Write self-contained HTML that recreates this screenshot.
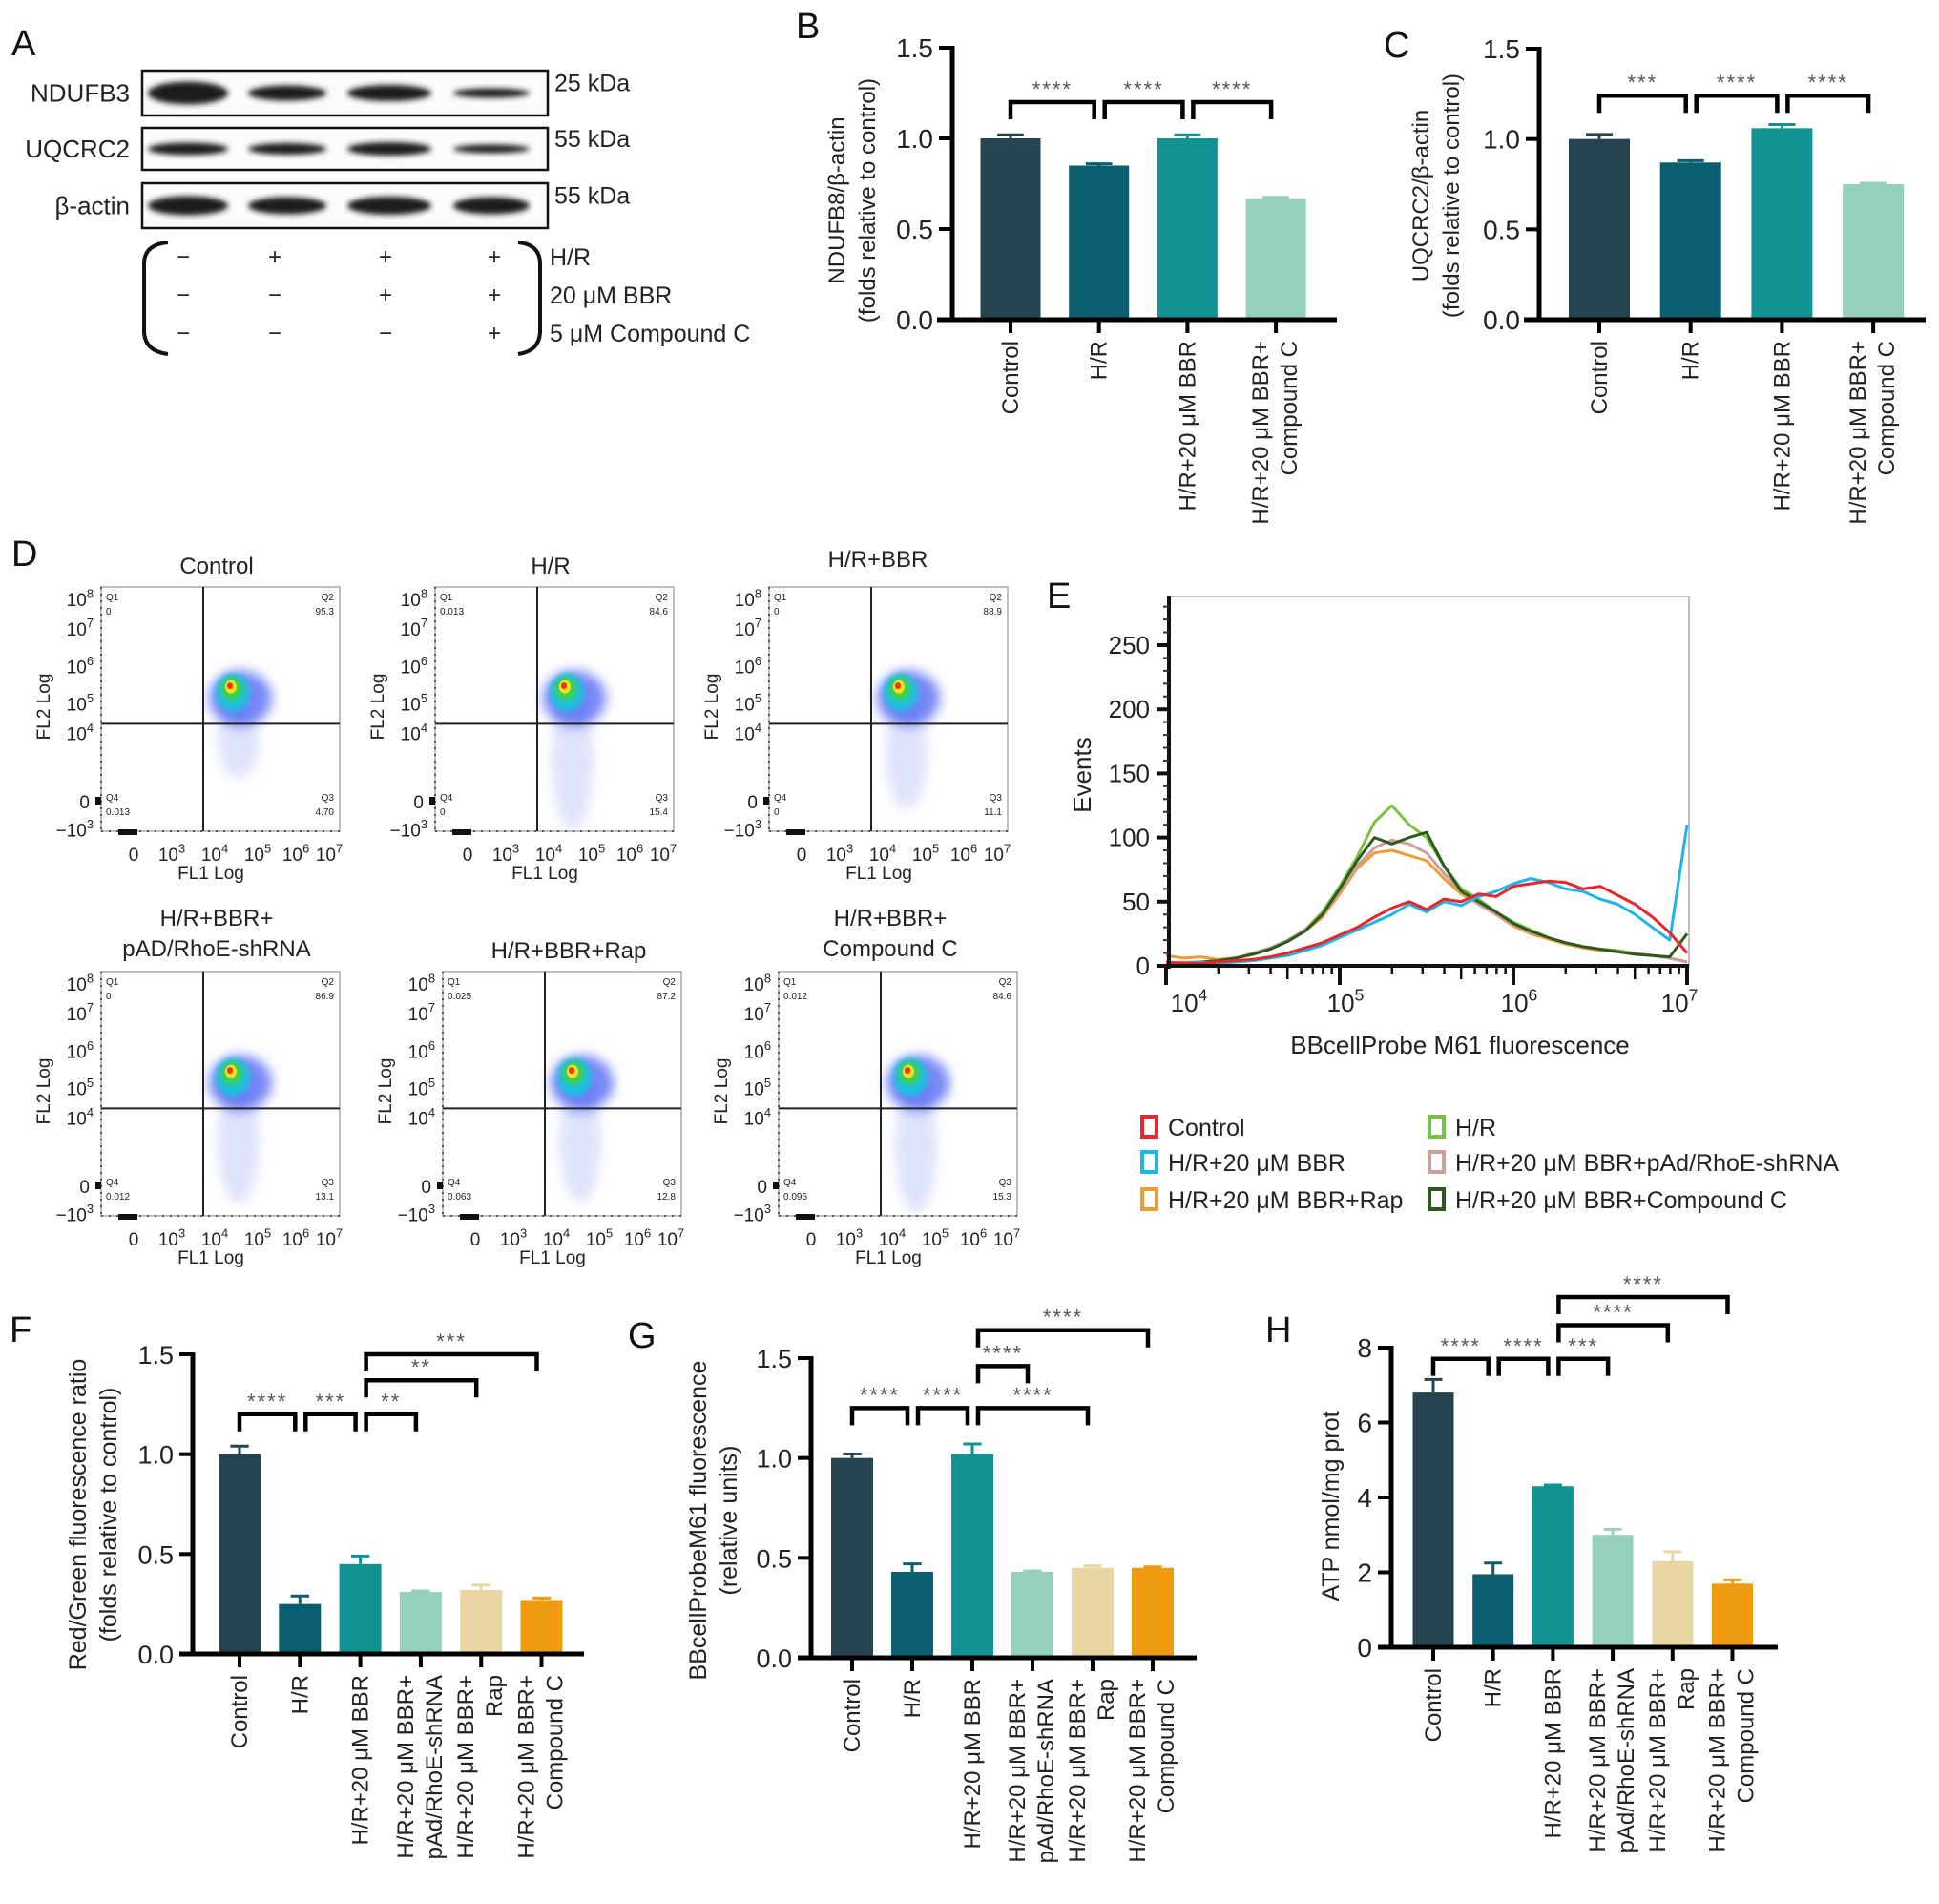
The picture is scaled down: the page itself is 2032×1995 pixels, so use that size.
<!DOCTYPE html>
<html><head><meta charset="utf-8"><style>
html,body{margin:0;padding:0;background:#fff;}
svg{display:block;font-family:"Liberation Sans",Arial,sans-serif;}
</style></head><body>
<svg id="fig" xmlns="http://www.w3.org/2000/svg" width="2032" height="1995" viewBox="0 0 2032 1995">
<defs>
<filter id="blur2" x="-20%" y="-50%" width="140%" height="200%"><feGaussianBlur stdDeviation="3"/></filter>
<filter id="blur6" x="-50%" y="-50%" width="200%" height="200%"><feGaussianBlur stdDeviation="6"/></filter>
</defs>
</svg>
<script>
// ---------- DATA ----------
const bCats = [["Control"],["H/R"],["H/R+20 μM BBR"],["H/R+20 μM BBR+","Compound C"]];
const bVals = [1.0, 0.85, 1.0, 0.67];
const bErrs = [0.02, 0.01, 0.02, 0.005];
const bSigFrom = [0,1,2]; const bSigTo = [1,2,3]; const bSigLvl = [1.2,1.2,1.2]; const bSigTxt = ["****","****","****"];

const cCats = bCats;
const cVals = [1.0, 0.87, 1.06, 0.75];
const cErrs = [0.025, 0.01, 0.02, 0.005];
const cSigFrom = [0,1,2]; const cSigTo = [1,2,3]; const cSigLvl = [1.24,1.24,1.24]; const cSigTxt = ["***","****","****"];

const fghCats = [["Control"],["H/R"],["H/R+20 μM BBR"],["H/R+20 μM BBR+","pAd/RhoE-shRNA"],["H/R+20 μM BBR+","Rap"],["H/R+20 μM BBR+","Compound C"]];
const fVals = [1.0, 0.25, 0.45, 0.31, 0.32, 0.27];
const fErrs = [0.04, 0.04, 0.04, 0.005, 0.025, 0.01];
const fSigFrom = [0,1,2,2,2]; const fSigTo = [1,2,3,4,5]; const fSigLvl = [1.2,1.2,1.2,1.37,1.5]; const fSigTxt = ["****","***","**","**","***"];

const gVals = [1.0, 0.43, 1.02, 0.43, 0.45, 0.45];
const gErrs = [0.02, 0.04, 0.05, 0.005, 0.01, 0.005];
const gSigFrom = [0,1,2,2,2]; const gSigTo = [1,2,3,4,5]; const gSigLvl = [1.25,1.25,1.46,1.25,1.64]; const gSigTxt = ["****","****","****","****","****"];

const hVals = [6.8, 1.95, 4.3, 3.0, 2.3, 1.7];
const hErrs = [0.35, 0.3, 0.03, 0.15, 0.25, 0.1];
const hSigFrom = [0,1,2,2,2]; const hSigTo = [1,2,3,4,5]; const hSigLvl = [7.7,7.7,7.7,8.6,9.35]; const hSigTxt = ["****","****","***","****","****"];

const barColors = ["#26444f","#0b5e70","#119293","#95d1ba","#e9d6a2","#ef9b12"];

const eLogX = [4.0,4.1,4.2,4.3,4.4,4.5,4.6,4.7,4.8,4.9,5.0,5.1,5.2,5.3,5.4,5.5,5.6,5.7,5.8,5.9,6.0,6.1,6.2,6.3,6.4,6.5,6.6,6.7,6.8,6.9,7.0];
const eControl = [3,2,2,3,4,5,7,10,14,18,24,30,38,45,50,44,52,50,56,54,62,64,66,65,60,62,55,48,38,26,10];
const eBBR = [2,2,3,2,3,4,6,8,12,16,22,28,34,40,48,42,50,47,54,58,64,68,65,60,58,52,48,40,30,20,110];
const eHR = [2,2,3,4,6,9,14,20,28,42,62,85,112,125,110,100,78,60,52,42,34,28,22,18,15,13,12,10,8,6,3];
const eShRNA = [2,3,3,4,6,10,14,20,28,40,58,78,92,98,95,88,72,58,48,40,32,26,22,18,15,13,11,10,8,6,3];
const eRap = [8,6,7,5,6,9,13,19,27,38,56,76,88,90,86,82,68,56,48,40,31,25,21,17,14,12,11,9,8,6,3];
const eCC = [2,2,3,4,6,9,13,19,27,40,60,82,100,95,100,104,78,58,50,42,33,27,22,18,15,13,11,9,8,7,25];
const eYTicks = [0,50,100,150,200,250];
const eXTicks = [4,5,6,7];

const dTitles = [["Control"],["H/R"],["H/R+BBR"],["H/R+BBR+","pAD/RhoE-shRNA"],["H/R+BBR+Rap"],["H/R+BBR+","Compound C"]];
const dQ1 = ["0","0.013","0","0","0.025","0.012"];
const dQ2 = ["95.3","84.6","88.9","86.9","87.2","84.6"];
const dQ3 = ["4.70","15.4","11.1","13.1","12.8","15.3"];
const dQ4 = ["0.013","0","0","0.012","0.063","0.095"];

// ---------- HELPERS ----------
const NS = "http://www.w3.org/2000/svg";
const svg = document.getElementById("fig");
function mk(tag, parent, attrs){
  const e = document.createElementNS(NS, tag);
  for (const k in attrs) e.setAttribute(k, attrs[k]);
  parent.appendChild(e);
  return e;
}
function tx(parent, x, y, s, size, anchor){
  const t = mk("text", parent, {x:x, y:y, "font-size":size, "text-anchor":anchor||"start", fill:"#222"});
  t.textContent = s;
  return t;
}
function pow10(parent, x, y, exp, size, anchor){
  const t = mk("text", parent, {x:x, y:y, "font-size":size, "text-anchor":anchor||"middle", fill:"#222"});
  const a = mk("tspan", t, {});
  a.textContent = (exp === "neg3" ? "−10" : "10");
  const b = mk("tspan", t, {dy:-size*0.45, "font-size":size*0.68});
  b.textContent = (exp === "neg3" ? "3" : exp);
  return t;
}
function letter(s, x, y){
  const t = tx(svg, x, y, s, 38);
  
  
  t.setAttribute('fill', '#111');
}

// ---------- BAR CHART ----------
function barChart(name, L, cats, vals, errs, sFrom, sTo, sLvl, sTxt, ticks, dec){
  const g = mk("g", svg, {});
  
  
  const yS = v => L.y0 - (v / L.vmax) * (L.y0 - L.yTop);
  const xS = i => L.c0 + i * L.pitch;
  vals.forEach((v, i) => {
    const r = mk("rect", g, {x:xS(i)-L.bw/2, y:yS(v), width:L.bw, height:L.y0-yS(v), fill:barColors[i]});
    
    
    const top = yS(v + errs[i]);
    const eb = mk("path", g, {d:`M${xS(i)} ${yS(v)} V${top} M${xS(i)-L.bw*0.22} ${top} H${xS(i)+L.bw*0.22}`, stroke:barColors[i], "stroke-width":3, fill:"none"});
    
    
  });
  const ya = mk("path", g, {d:`M${L.ax} ${L.yTop-2} V${L.y0}`, stroke:"#000", "stroke-width":5, fill:"none"});
  
  
  const xa = mk("path", g, {d:`M${L.xs} ${L.y0} H${L.xe}`, stroke:"#000", "stroke-width":5, fill:"none"});
  
  
  ticks.forEach(v => {
    mk("path", g, {d:`M${L.ax-14} ${yS(v)} H${L.ax}`, stroke:"#000", "stroke-width":4});
    const t = tx(g, L.ax-20, yS(v)+10, v.toFixed(dec), L.ft, "end");
    
    
  });
  cats.forEach((c, i) => {
    mk("path", g, {d:`M${xS(i)} ${L.y0} V${L.y0+14}`, stroke:"#000", "stroke-width":4});
    c.forEach((line, k) => {
      const off = c.length === 1 ? 8 : (k === 0 ? -8 : 22);
      const x = xS(i) + off, y = L.y0 + 22;
      const t = mk("text", g, {x:x, y:y, "font-size":L.fc, "text-anchor":"end", fill:"#222", transform:`rotate(-90 ${x} ${y})`});
      t.textContent = line;
      
      
    });
  });
  L.title.forEach((line, k) => {
    const x = L.tx[k], y = L.ty;
    const t = mk("text", g, {x:x, y:y, "font-size":L.fy, "text-anchor":"middle", fill:"#222", transform:`rotate(-90 ${x} ${y})`});
    t.textContent = line;
    
    
  });
  sFrom.forEach((a, k) => {
    const b = sTo[k];
    const x1 = xS(a) + (a > 0 ? 6 : 0), x2 = xS(b) - 5, yt = yS(sLvl[k]);
    const br = mk("path", g, {d:`M${x1} ${yt+18} V${yt} H${x2} V${yt+18}`, stroke:"#000", "stroke-width":4.5, fill:"none"});
    
    
    const st = tx(g, (x1+x2)/2, yt-6, sTxt[k], 22, "middle");
    st.setAttribute('fill', '#555');
    st.setAttribute('letter-spacing', '2');
    
    
  });
}

barChart("chart-b-ndufb8", {ax:998,y0:335,yTop:50,vmax:1.5,xs:982,xe:1401,c0:1059,pitch:92.7,bw:63,ft:28,fc:24,fy:24,title:["NDUFB8/β-actin","(folds relative to control)"],tx:[885,917],ty:210},
  bCats,bVals,bErrs,bSigFrom,bSigTo,bSigLvl,bSigTxt,[0,0.5,1.0,1.5],1);
barChart("chart-c-uqcrc2", {ax:1613,y0:335,yTop:51,vmax:1.5,xs:1597,xe:2018,c0:1676,pitch:95.7,bw:64,ft:28,fc:24,fy:24,title:["UQCRC2/β-actin","(folds relative to control)"],tx:[1497,1529],ty:205},
  cCats,cVals,cErrs,cSigFrom,cSigTo,cSigLvl,cSigTxt,[0,0.5,1.0,1.5],1);
barChart("chart-f-red-green", {ax:202,y0:1733,yTop:1419,vmax:1.5,xs:188,xe:612,c0:251,pitch:63.3,bw:44,ft:27,fc:24,fy:25,title:["Red/Green fluorescence ratio","(folds relative to control)"],tx:[90,122],ty:1587},
  fghCats,fVals,fErrs,fSigFrom,fSigTo,fSigLvl,fSigTxt,[0,0.5,1.0,1.5],1);
barChart("chart-g-m61", {ax:850,y0:1737,yTop:1423,vmax:1.5,xs:836,xe:1254,c0:893,pitch:63,bw:44,ft:27,fc:24,fy:25,title:["BBcellProbeM61 fluorescence","(relative units)"],tx:[740,772],ty:1593},
  fghCats,gVals,gErrs,gSigFrom,gSigTo,gSigLvl,gSigTxt,[0,0.5,1.0,1.5],1);
barChart("chart-h-atp", {ax:1458,y0:1726,yTop:1412,vmax:8,xs:1444,xe:1863,c0:1502,pitch:62.7,bw:43,ft:28,fc:24,fy:25,title:["ATP nmol/mg prot"],tx:[1403],ty:1578},
  fghCats,hVals,hErrs,hSigFrom,hSigTo,hSigLvl,hSigTxt,[0,2,4,6,8],0);

// ---------- PANEL A: western blot ----------
(function(){
  const g = mk("g", svg, {});
  
  
  const rows = [{n:"NDUFB3",y:74,h:47,k:"25 kDa",th:[24,16,17,10]},{n:"UQCRC2",y:134,h:44,k:"55 kDa",th:[13,12,14,9]},{n:"β-actin",y:192,h:47,k:"55 kDa",th:[20,18,19,18]}];
  const lanes = [197,301,408,515], lw = [84,82,88,80];
  rows.forEach(r => {
    const box = mk("rect", g, {x:149, y:r.y, width:425, height:r.h, fill:"#fbfbfb", stroke:"#111", "stroke-width":2.5});
    
    
    lanes.forEach((cx, i) => {
      const b = mk("ellipse", g, {cx:cx, cy:r.y+r.h/2, rx:lw[i]/2, ry:r.th[i]/2, fill:"#1a1a1a", filter:"url(#blur2)"});
      
      
    });
    const t = tx(g, 136, r.y+r.h/2+9, r.n, 26, "end");
    
    
    const k = tx(g, 581, r.y+r.h/2-2, r.k, 25);
    
    
  });
  const signs = [["−","+","+","+"],["−","−","+","+"],["−","−","−","+"]];
  const names = ["H/R","20 μM BBR","5 μM Compound C"];
  const ys = [269,309,349], cols = [192,288,404,518];
  signs.forEach((row, r) => {
    row.forEach((s, c) => {
      const t = tx(g, cols[c], ys[r]+8, s, 24, "middle");
      
      
    });
    const n = tx(g, 576, ys[r]+9, names[r], 25);
    
    
  });
  const lb = mk("path", g, {d:"M176 254 Q152 256 151 275 V348 Q152 368 176 371", stroke:"#111", "stroke-width":4, fill:"none"});
  
  
  const rb = mk("path", g, {d:"M543 254 Q565 256 566 275 V348 Q565 368 543 371", stroke:"#111", "stroke-width":4, fill:"none"});
  
  
})();

// ---------- PANEL D: flow plots ----------
const dPos = [[106,615],[456,615],[806,615],[106,1018],[464,1018],[816,1018]];
const dTitleCx = [227,577,920,227,596,933];
dTitles.forEach((title, i) => {
  const [x0, y0] = dPos[i], W = 250, H = 256;
  const g = mk("g", svg, {});
  
  
  title.forEach((line, k) => {
    const ty = title.length === 1 ? y0 - 14 - (i===2?7:0) : y0 - 48 + k*32;
    const t = tx(g, dTitleCx[i], ty, line, 24, "middle");
    
    
  });
  const box = mk("rect", g, {x:x0, y:y0, width:W, height:H, fill:"#fff", stroke:"#aaa", "stroke-width":1.5});
  
  
  const q3 = parseFloat(dQ3[i]);
  const cx = x0 + W*0.56, cy = y0 + H*0.44;
  const tail = mk("ellipse", g, {cx:cx+4, cy:cy+40+q3*2, rx:22, ry:25+q3*3, fill:"#3a55ee", opacity:0.16, filter:"url(#blur6)"});
  
  
  const halo = mk("ellipse", g, {cx:cx+6, cy:cy+4, rx:33, ry:29, fill:"#2f47f0", opacity:0.65, filter:"url(#blur6)"});
  
  
  mk("ellipse", g, {cx:cx-2, cy:cy-2, rx:18, ry:20, fill:"#1fc0e0", filter:"url(#blur2)"});
  mk("ellipse", g, {cx:cx-3, cy:cy-6, rx:11, ry:12, fill:"#3fd24a", filter:"url(#blur2)"});
  mk("ellipse", g, {cx:cx-4, cy:cy-8, rx:6, ry:7, fill:"#f5e01a"});
  mk("ellipse", g, {cx:cx-5, cy:cy-9, rx:3, ry:3.5, fill:"#e8391d"});
  const qx = x0 + W*0.428, qy = y0 + H*0.56;
  const ql = mk("path", g, {d:`M${qx} ${y0} V${y0+H} M${x0} ${qy} H${x0+W}`, stroke:"#222", "stroke-width":2});
  
  
  mk("path", g, {d:`M${x0} ${y0} V${y0+H}`, stroke:"#555", "stroke-width":2, "stroke-dasharray":"2 5"});
  mk("path", g, {d:`M${x0} ${y0+H} H${x0+W}`, stroke:"#555", "stroke-width":2, "stroke-dasharray":"2 6"});
  mk("rect", g, {x:x0+18, y:y0+H-2, width:20, height:6, fill:"#111"});
  mk("rect", g, {x:x0-6, y:y0+H*0.875-4, width:6, height:8, fill:"#111"});
  const yl = [["8",0.047],["7",0.167],["6",0.323],["5",0.475],["4",0.595]];
  yl.forEach(([e, f]) => {
    const t = pow10(g, x0-8, y0+H*f+8, e, 19, "end");
    
    
  });
  const z = tx(g, x0-12, y0+H*0.875+8, "0", 19, "end");
  
  
  const n3 = pow10(g, x0-8, y0+H*0.99+8, "neg3", 19, "end");
  
  
  const xl = [["0",0.136],["3",0.296],["4",0.476],["5",0.656],["6",0.816],["7",0.956]];
  xl.forEach(([e, f]) => {
    let t;
    if (e === "0") t = tx(g, x0+W*f, y0+H+31, "0", 19, "middle");
    else t = pow10(g, x0+W*f, y0+H+31, e, 19, "middle");
    
    
  });
  const xt = tx(g, x0+W*0.46, y0+H+50, "FL1 Log", 19, "middle");
  
  
  const yx = x0-54, yy = y0+H*0.49;
  const yt = mk("text", g, {x:yx, y:yy, "font-size":19, "text-anchor":"middle", fill:"#222", transform:`rotate(-90 ${yx} ${yy})`});
  yt.textContent = "FL2 Log";
  
  
  const qs = [["Q1",dQ1[i],x0+5,y0+14,"start"],["Q2",dQ2[i],x0+W-6,y0+14,"end"],["Q4",dQ4[i],x0+5,y0+H*0.875,"start"],["Q3",dQ3[i],x0+W-6,y0+H*0.875,"end"]];
  qs.forEach(([q, v, x, y, a]) => {
    const t1 = tx(g, x, y, q, 10, a);
    
    
    const t2 = tx(g, x, y+15, v, 10, a);
    
    
  });
});

// ---------- PANEL E: histogram ----------
(function(){
  const g = mk("g", svg, {});
  
  
  const X0 = 1222, X1 = 1768, Y0 = 1012, pxPer = 1.344;
  const xS = l => X0 + (l - 4) / 3 * (X1 - X0);
  const yS = v => Y0 - v * pxPer;
  const frame = mk("rect", g, {x:1225, y:625, width:545, height:387, fill:"#fff", stroke:"#aaa", "stroke-width":1.5});
  
  
  const series = [[eHR,"#7ac143","hr"],[eRap,"#f19a38","rap"],[eShRNA,"#c9a09a","shrna"],[eCC,"#2c5a1e","compound-c"],[eBBR,"#1fb5ea","bbr"],[eControl,"#e8262b","control"]];
  series.forEach(([vals, col, nm]) => {
    const pts = vals.map((v, i) => `${xS(eLogX[i]).toFixed(1)},${yS(v).toFixed(1)}`).join(" ");
    const p = mk("polyline", g, {points:pts, fill:"none", stroke:col, "stroke-width":3, "stroke-linejoin":"round"});
    
    
  });
  const ax = mk("path", g, {d:`M1225 625 V${Y0+3} M1222 ${Y0} H1770`, stroke:"#111", "stroke-width":4, fill:"none"});
  
  
  for (let v = 0; v <= 285; v += 10) mk("path", g, {d:`M1219 ${yS(v)} H1225`, stroke:"#333", "stroke-width":2});
  eYTicks.forEach(v => {
    mk("path", g, {d:`M1212 ${yS(v)} H1225`, stroke:"#111", "stroke-width":4});
    const t = tx(g, 1205, yS(v)+9, String(v), 26, "end");
    
    
  });
  for (let d = 4; d < 7; d++) for (let m = 2; m <= 9; m++) {
    const xx = xS(d + Math.log10(m));
    mk("path", g, {d:`M${xx} ${Y0} V${Y0+(m===5?14:9)}`, stroke:"#111", "stroke-width":2.5});
  }
  eXTicks.forEach(e => {
    mk("path", g, {d:`M${xS(e)} ${Y0} V${Y0+20}`, stroke:"#111", "stroke-width":4});
    const t = pow10(g, xS(e)+ (e===4?24:(e===7?-8:6)), 1060, String(e), 26, "middle");
    
    
  });
  const xt = tx(g, 1530, 1104, "BBcellProbe M61 fluorescence", 26, "middle");
  
  
  const yt = mk("text", g, {x:1143, y:812, "font-size":26, "text-anchor":"middle", fill:"#222", transform:"rotate(-90 1143 812)"});
  yt.textContent = "Events";
  
  
  const leg = [["Control","#e8262b",1195,1181],["H/R","#7ac143",1496,1181],["H/R+20 μM BBR","#1fb5ea",1195,1218],["H/R+20 μM BBR+pAd/RhoE-shRNA","#c9a09a",1496,1218],["H/R+20 μM BBR+Rap","#f19a38",1195,1257],["H/R+20 μM BBR+Compound C","#2c5a1e",1496,1257]];
  leg.forEach(([s, c, x, y]) => {
    const lg = mk("g", g, {});
    
    
    mk("rect", lg, {x:x+2, y:y-11, width:15, height:21, fill:"none", stroke:c, "stroke-width":4});
    tx(lg, x+29, y+9, s, 25);
  });
})();

// ---------- PANEL LETTERS ----------
letter("A", 12, 58);
letter("B", 834, 40);
letter("C", 1450, 60);
letter("D", 12, 593);
letter("E", 1097, 637);
letter("F", 10, 1406);
letter("G", 658, 1412);
letter("H", 1326, 1406);
</script>
</body></html>
